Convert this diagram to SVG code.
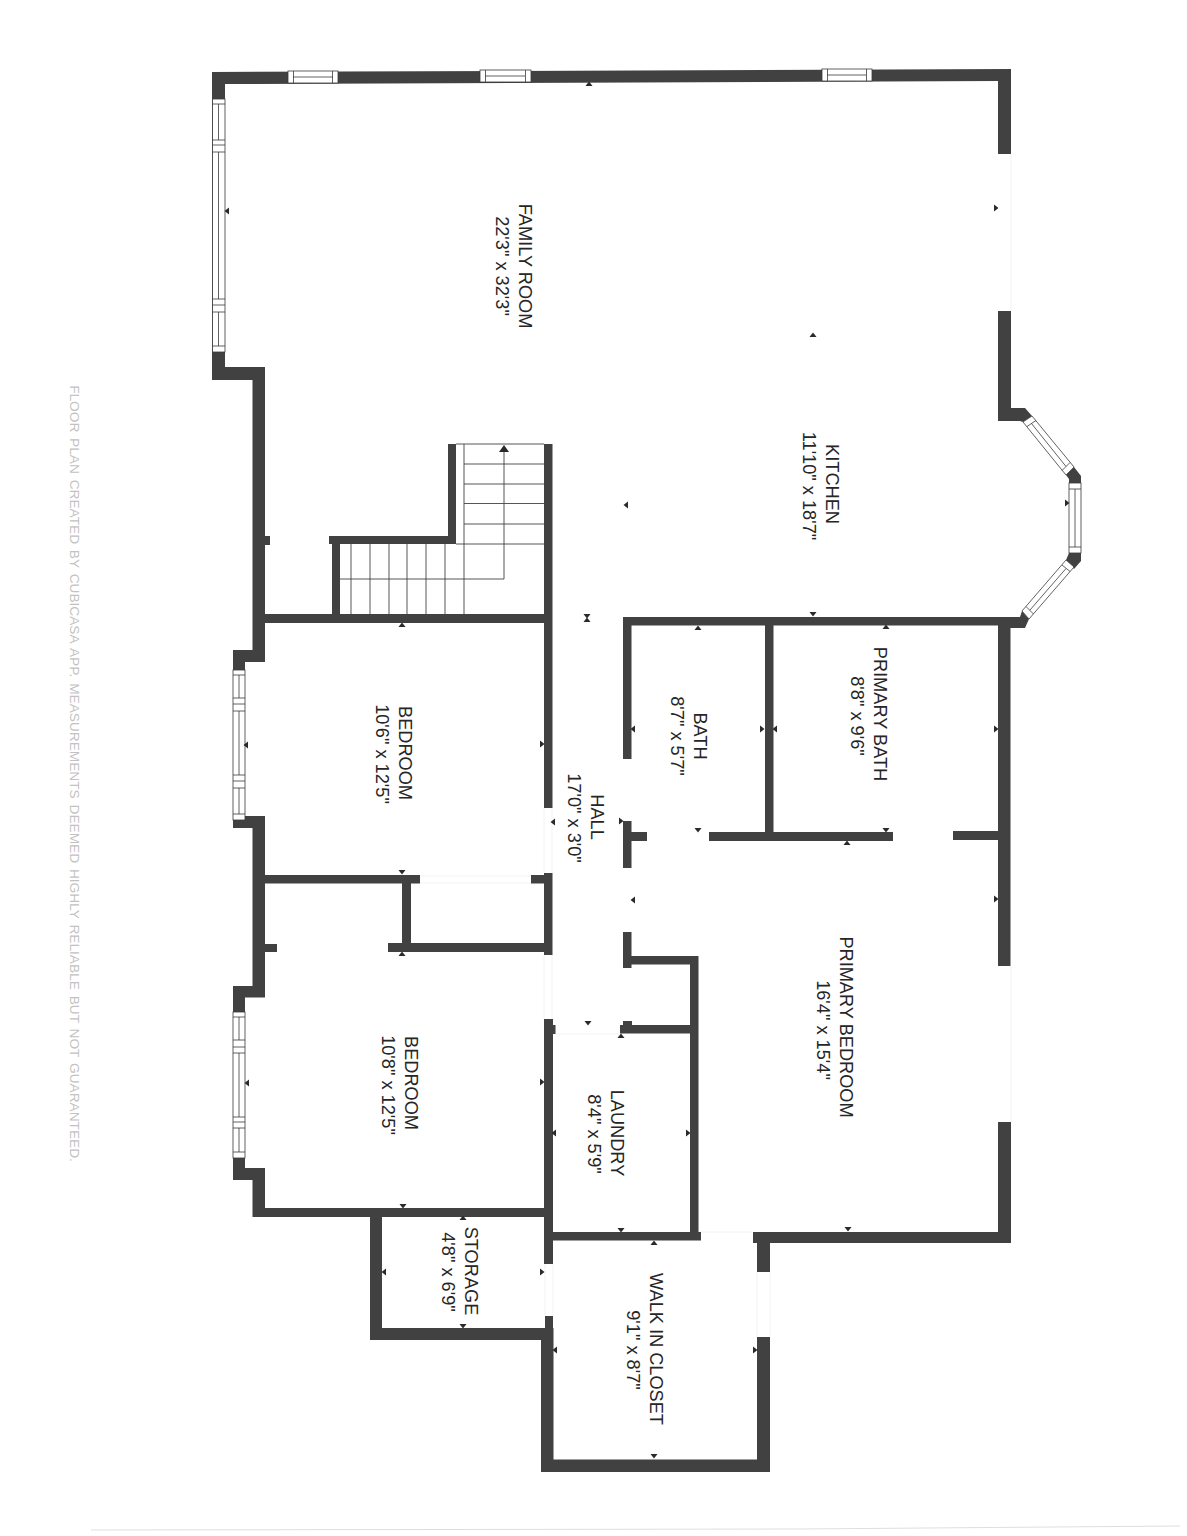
<svg xmlns="http://www.w3.org/2000/svg" width="1187" height="1536" viewBox="0 0 1187 1536">
<style>
.w{fill:#414141}
.win{fill:#fff;stroke:#3a3a3a;stroke-width:.8}
.ln{fill:none;stroke:#3a3a3a;stroke-width:.8}
.st{fill:none;stroke:#444;stroke-width:.9}
.door{fill:none;stroke:#f2f2f2;stroke-width:1}
.m{fill:#2a2a2a}
text{font-family:"Liberation Sans",Arial,sans-serif;font-size:18.2px;fill:#262626;text-anchor:middle}
.foot{font-size:13.7px;fill:#c2c2c2;word-spacing:2px}
</style>
<defs>
<path id="u" d="M-3.5 2H3.5L0-2.5Z"/>
<path id="d" d="M-3.5-2H3.5L0 2.5Z"/>
<path id="l" d="M2-3.5V3.5L-2.5 0Z"/>
<path id="r" d="M-2-3.5V3.5L2.5 0Z"/>
</defs>
<rect width="1187" height="1536" fill="#fff"/>
<g id="doors">
<path class="door" d="M544 808V873M552 808V873M544 955V1019M552 955V1019M555 1034H620M420 876H531M420 883H531M1011 154V311M1011 966V1122M699 1232H753M757 1272V1337M770 1272V1337M545 1264V1316M553 1264V1316"/>
<path d="M91 1530 L800 1529 L1180 1526" fill="none" stroke="#dedede" stroke-width="1"/>
</g>
<g id="walls">
<polygon class="w" points="212,72 1011,69 1011,154 998,154 998,81 225,84 225,380 212,380"/>
<rect class="w" x="212" y="367" width="53" height="13"/>
<rect class="w" x="252.500" y="367" width="12.500" height="295"/>
<rect class="w" x="265" y="536" width="5" height="9"/>
<rect class="w" x="233" y="650" width="32" height="12"/>
<rect class="w" x="233" y="650" width="12" height="178"/>
<rect class="w" x="233" y="816" width="32" height="12"/>
<rect class="w" x="252.500" y="816" width="12.500" height="181"/>
<rect class="w" x="265" y="614" width="287" height="9"/>
<rect class="w" x="332" y="544" width="8" height="70"/>
<rect class="w" x="329" y="536" width="127" height="8"/>
<rect class="w" x="448" y="444" width="8" height="100"/>
<rect class="w" x="544" y="444" width="8.500" height="364"/>
<rect class="w" x="265" y="875" width="155" height="8.500"/>
<rect class="w" x="402" y="875" width="9" height="75"/>
<rect class="w" x="388" y="943" width="164" height="9"/>
<rect class="w" x="531" y="875" width="14" height="8.500"/>
<rect class="w" x="544" y="873" width="8.500" height="82"/>
<rect class="w" x="265" y="944" width="12" height="8"/>
<rect class="w" x="233" y="986" width="32" height="11.500"/>
<rect class="w" x="233" y="986" width="12" height="194"/>
<rect class="w" x="233" y="1168" width="32" height="12"/>
<rect class="w" x="252.500" y="1168" width="12.500" height="49"/>
<rect class="w" x="253" y="1208" width="300" height="9"/>
<rect class="w" x="544" y="1019" width="9" height="245"/>
<rect class="w" x="553" y="1025" width="2.500" height="9"/>
<rect class="w" x="370" y="1208" width="12" height="132"/>
<rect class="w" x="370" y="1328" width="183" height="12"/>
<rect class="w" x="545" y="1316" width="8" height="24"/>
<rect class="w" x="541" y="1328" width="12.500" height="144"/>
<rect class="w" x="541" y="1459.500" width="229" height="12.500"/>
<rect class="w" x="757" y="1337" width="13" height="135"/>
<rect class="w" x="757" y="1232" width="13" height="40"/>
<rect class="w" x="753" y="1232" width="258" height="11"/>
<rect class="w" x="998" y="1122" width="13" height="121"/>
<rect class="w" x="553" y="1232" width="148" height="8.500"/>
<rect class="w" x="690" y="956" width="8.500" height="280"/>
<rect class="w" x="623" y="956" width="75" height="8.500"/>
<rect class="w" x="623" y="932" width="8.500" height="36"/>
<rect class="w" x="620" y="1025" width="72" height="8.500"/>
<rect class="w" x="623" y="1021" width="9" height="8"/>
<rect class="w" x="623" y="821" width="8.500" height="47"/>
<rect class="w" x="631" y="832" width="16" height="9"/>
<rect class="w" x="709" y="832" width="184" height="9"/>
<rect class="w" x="953" y="831" width="50" height="9"/>
<rect class="w" x="623" y="617" width="8.500" height="142"/>
<rect class="w" x="623" y="617" width="400" height="8.500"/>
<rect class="w" x="765" y="617" width="8.500" height="220"/>
<rect class="w" x="998" y="617" width="12.500" height="349"/>
<rect class="w" x="998" y="311" width="13" height="110"/>
<polygon class="w" points="998,408 1025,408 1032,416 1023,422 1020,421 998,421"/>
<polygon class="w" points="1066,475 1074,467 1081,476 1081,483 1069,483 1069,479"/>
<polygon class="w" points="1069,553 1081,553 1081,561 1074,569 1066,560"/>
<polygon class="w" points="1022,611 1029,619 1025,628 1010,628 1010,617 1020,617"/>
</g>
<g id="windows">
<g>
<rect class="win" x="288" y="71" width="50" height="12"/><path class="ln" d="M293.500 71V83M332.500 71V83M293 77H333"/>
<rect class="win" x="480" y="70" width="51" height="12"/><path class="ln" d="M485.500 70V82M525.500 70V82M485 76H525"/>
<rect class="win" x="822" y="69" width="50" height="12"/><path class="ln" d="M827.500 69V81M866.500 69V81M827 75H866"/>
</g>
<rect class="win" x="212.500" y="99" width="12.500" height="253"/>
<path class="ln" d="M212.500 104H225M212.500 140H225M212.500 145H225M212.500 152H225M212.500 299H225M212.500 305H225M212.500 312H225M212.500 346H225M218.500 104V140M218.500 152V299M218.500 312V346"/>
<rect class="win" x="233" y="670" width="12" height="150"/>
<path class="ln" d="M233 675H245M233 698H245M233 704H245M233 711H245M233 775H245M233 781H245M233 788H245M233 814H245M239 675V698M239 711V775M239 788V814"/>
<rect class="win" x="233" y="1012" width="12" height="146"/>
<path class="ln" d="M233 1017H245M233 1040H245M233 1047H245M233 1053H245M233 1117H245M233 1122H245M233 1128H245M233 1152H245M239 1017V1040M239 1053V1117M239 1128V1152"/>
<polygon class="win" points="1023,422 1032,416 1074,467 1066,475"/>
<path class="ln" d="M1027 426.500L1036 420.500M1062 470.500L1070 462.500M1031.500 423.500L1066 466.500"/>
<rect class="win" x="1069" y="483" width="12" height="70"/>
<path class="ln" d="M1069 489H1081M1069 547H1081M1075 489V547"/>
<polygon class="win" points="1066,560 1074,567 1029,619 1022,611"/>
<path class="ln" d="M1062 565L1070 571.500M1026 606.500L1033.500 614M1066 568.500L1030 610"/>
</g>
<g id="stairs">
<path class="st" d="M464 444V614M456 444H544M464 464H544M464 484H544M464 503.500H544M464 524H544M456 544H544M351 544V614M370 544V614M389 544V614M407 544V614M426 544V614M445 544V614M340 579H504V452"/>
<polygon class="m" points="499,452 509,452 504,445"/>
</g>
<g id="markers" class="m">
<use href="#u" x="589" y="84"/><use href="#l" x="227" y="211"/><use href="#r" x="996" y="208"/><use href="#u" x="813" y="335"/><use href="#l" x="626" y="505"/>
<use href="#d" x="587" y="616"/><use href="#u" x="587" y="620"/><use href="#u" x="402" y="625"/><use href="#r" x="542" y="744"/><use href="#l" x="633" y="729"/><use href="#l" x="246" y="745"/>
<use href="#l" x="553" y="822"/><use href="#r" x="621" y="821"/><use href="#d" x="698" y="830"/><use href="#l" x="633" y="900"/><use href="#d" x="588" y="1023"/><use href="#u" x="621" y="1036"/>
<use href="#u" x="698" y="628"/><use href="#d" x="813" y="614"/><use href="#u" x="886" y="627"/><use href="#r" x="762" y="729"/><use href="#l" x="775" y="729"/><use href="#r" x="996" y="729"/>
<use href="#d" x="886" y="830"/><use href="#u" x="847" y="843"/><use href="#r" x="996" y="899"/><use href="#d" x="848" y="1229"/><use href="#d" x="402" y="872"/><use href="#u" x="402" y="954"/>
<use href="#l" x="247" y="1083"/><use href="#r" x="542" y="1082"/><use href="#l" x="554" y="1133"/><use href="#r" x="688" y="1133"/><use href="#d" x="403" y="1206"/><use href="#d" x="621" y="1230"/>
<use href="#u" x="654" y="1243"/><use href="#u" x="463" y="1218"/><use href="#d" x="463" y="1326"/><use href="#l" x="384" y="1272"/><use href="#r" x="542" y="1272"/><use href="#l" x="555" y="1350"/><use href="#r" x="755" y="1350"/><use href="#d" x="654" y="1456"/><use href="#r" x="1067" y="503"/>
</g>
<g id="family-room"><text transform="translate(519,266) rotate(90)">FAMILY ROOM</text><text transform="translate(496,266) rotate(90)">22'3" x 32'3"</text></g>
<g id="kitchen"><text transform="translate(826,484) rotate(90)">KITCHEN</text><text transform="translate(803,486) rotate(90)">11'10" x 18'7"</text></g>
<g id="bedroom-1"><text transform="translate(399,753) rotate(90)">BEDROOM</text><text transform="translate(376,754) rotate(90)">10'6" x 12'5"</text></g>
<g id="hall"><text transform="translate(591,817) rotate(90)">HALL</text><text transform="translate(568,818) rotate(90)">17'0" x 3'0"</text></g>
<g id="bath"><text transform="translate(694,736) rotate(90)">BATH</text><text transform="translate(671,736) rotate(90)">8'7" x 5'7"</text></g>
<g id="primary-bath"><text transform="translate(874,714) rotate(90)">PRIMARY BATH</text><text transform="translate(851,716) rotate(90)">8'8" x 9'6"</text></g>
<g id="primary-bedroom"><text transform="translate(840,1027) rotate(90)">PRIMARY BEDROOM</text><text transform="translate(817,1030) rotate(90)">16'4" x 15'4"</text></g>
<g id="bedroom-2"><text transform="translate(405,1083) rotate(90)">BEDROOM</text><text transform="translate(382,1085) rotate(90)">10'8" x 12'5"</text></g>
<g id="laundry"><text transform="translate(611,1133) rotate(90)">LAUNDRY</text><text transform="translate(588,1134) rotate(90)">8'4" x 5'9"</text></g>
<g id="storage"><text transform="translate(465,1271) rotate(90)">STORAGE</text><text transform="translate(442,1272) rotate(90)">4'8" x 6'9"</text></g>
<g id="walk-in-closet"><text transform="translate(650,1349) rotate(90)">WALK IN CLOSET</text><text transform="translate(627,1350) rotate(90)">9'1" x 8'7"</text></g>
<text class="foot" transform="translate(70,773.500) rotate(90)">FLOOR PLAN CREATED BY CUBICASA APP. MEASUREMENTS DEEMED HIGHLY RELIABLE BUT NOT GUARANTEED.</text>
</svg>
